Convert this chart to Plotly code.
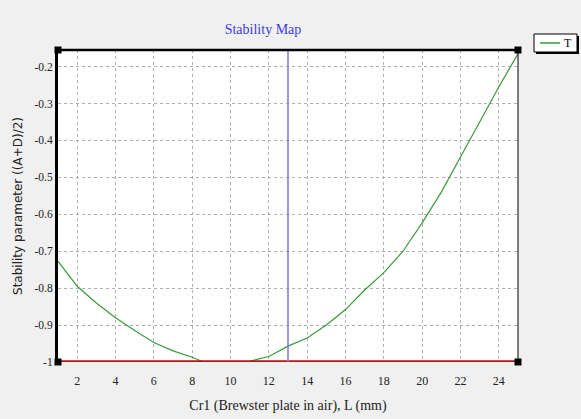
import plotly.graph_objects as go

# Data
x_vals = [1, 2, 3, 4, 5, 6, 7, 8, 8.5, 9, 10, 11, 12, 13, 14, 15, 16, 17, 18, 19, 20, 21, 22, 23, 24, 25]
t_vals = [-0.727, -0.795, -0.84, -0.88, -0.915, -0.947, -0.97, -0.987, -0.998, -1.0, -1.0, -0.998,
          -0.985, -0.957, -0.935, -0.9, -0.858, -0.805, -0.758, -0.70, -0.623, -0.54, -0.445, -0.35, -0.255, -0.165]
limit_x = [1, 25]
limit_y = [-1, -1]
marker_x = 13
x_ticks = [2, 4, 6, 8, 10, 12, 14, 16, 18, 20, 22, 24]
y_ticks = [-0.2, -0.3, -0.4, -0.5, -0.6, -0.7, -0.8, -0.9, -1.0]
y_tick_text = ["-0.2", "-0.3", "-0.4", "-0.5", "-0.6", "-0.7", "-0.8", "-0.9", "-1"]
x_range = [1, 25]
y_range = [-1.0, -0.155]

serif = "Liberation Serif, Times New Roman, serif"
green = "#3a9a3a"

fig = go.Figure()
fig.add_trace(go.Scatter(x=x_vals, y=t_vals, mode="lines", name="T", showlegend=False,
                         line=dict(color=green, width=1.2)))
fig.add_trace(go.Scatter(x=limit_x, y=limit_y, mode="lines", showlegend=False,
                         line=dict(color="#b81414", width=3.5), cliponaxis=False))
fig.add_trace(go.Scatter(x=[marker_x, marker_x], y=y_range, mode="lines", showlegend=False,
                         line=dict(color="#7878d8", width=1.5)))
# corner markers
fig.add_trace(go.Scatter(x=[x_range[0], x_range[1], x_range[0], x_range[1]],
                         y=[y_range[0], y_range[0], y_range[1], y_range[1]],
                         mode="markers", showlegend=False, cliponaxis=False,
                         marker=dict(symbol="square", size=7, color="black")))

fig.update_layout(
    width=581, height=419,
    margin=dict(l=58, r=63, t=50, b=57, autoexpand=False),
    paper_bgcolor="#f0f0f0", plot_bgcolor="white",
    title=dict(text="Stability Map", x=263 / 581, xanchor="center", y=1 - 24 / 419, yanchor="top",
               font=dict(family=serif, size=14, color="#3c3ce0")),
    xaxis=dict(range=x_range, tickvals=x_ticks, ticktext=[str(v) for v in x_ticks],
               showgrid=True, gridcolor="#b0b0b0", griddash="dot", gridwidth=1,
               zeroline=False, showline=False, ticks="", ticklen=0, ticklabelstandoff=10,
               tickfont=dict(family=serif, size=12, color="#222"),
               title=dict(text="Cr1 (Brewster plate in air), L (mm)", standoff=13,
                          font=dict(family=serif, size=14, color="#222"))),
    yaxis=dict(range=y_range, tickvals=y_ticks, ticktext=y_tick_text,
               showgrid=True, gridcolor="#b0b0b0", griddash="dot", gridwidth=1,
               zeroline=False, showline=True, linecolor="black", linewidth=3,
               ticks="", tickfont=dict(family=serif, size=11.5, color="#222"),
               title=dict(text="Stability parameter ((A+D)/2)", standoff=10,
                          font=dict(family="DejaVu Sans, sans-serif", size=12, color="#222"))),
)
# top and right borders
fig.add_shape(type="line", xref="paper", yref="paper", x0=0, x1=1, y0=1, y1=1,
              line=dict(color="black", width=2.5))
fig.add_shape(type="line", xref="paper", yref="paper", x0=1, x1=1, y0=0, y1=1,
              line=dict(color="black", width=1))
# legend box (shadow, frame, line sample, label)
px_x = lambda p: (p - 58) / 460
px_y = lambda p: (362 - p) / 312
fig.add_shape(type="rect", xref="paper", yref="paper", x0=px_x(536), x1=px_x(579), y0=px_y(54), y1=px_y(36),
              fillcolor="black", line=dict(width=0))
fig.add_shape(type="rect", xref="paper", yref="paper", x0=px_x(534), x1=px_x(577), y0=px_y(52), y1=px_y(34),
              fillcolor="white", line=dict(color="black", width=1))
fig.add_shape(type="line", xref="paper", yref="paper", x0=px_x(540), x1=px_x(560), y0=px_y(43), y1=px_y(43),
              line=dict(color=green, width=1.5))
fig.add_annotation(text="T", xref="paper", yref="paper", x=px_x(568), y=px_y(43), showarrow=False,
                   xanchor="center", yanchor="middle", font=dict(family=serif, size=12, color="black"))

fig.write_html("out.html", config={"displayModeBar": False},
               post_script="document.body.style.margin='0';document.body.style.background='#f0f0f0';")
